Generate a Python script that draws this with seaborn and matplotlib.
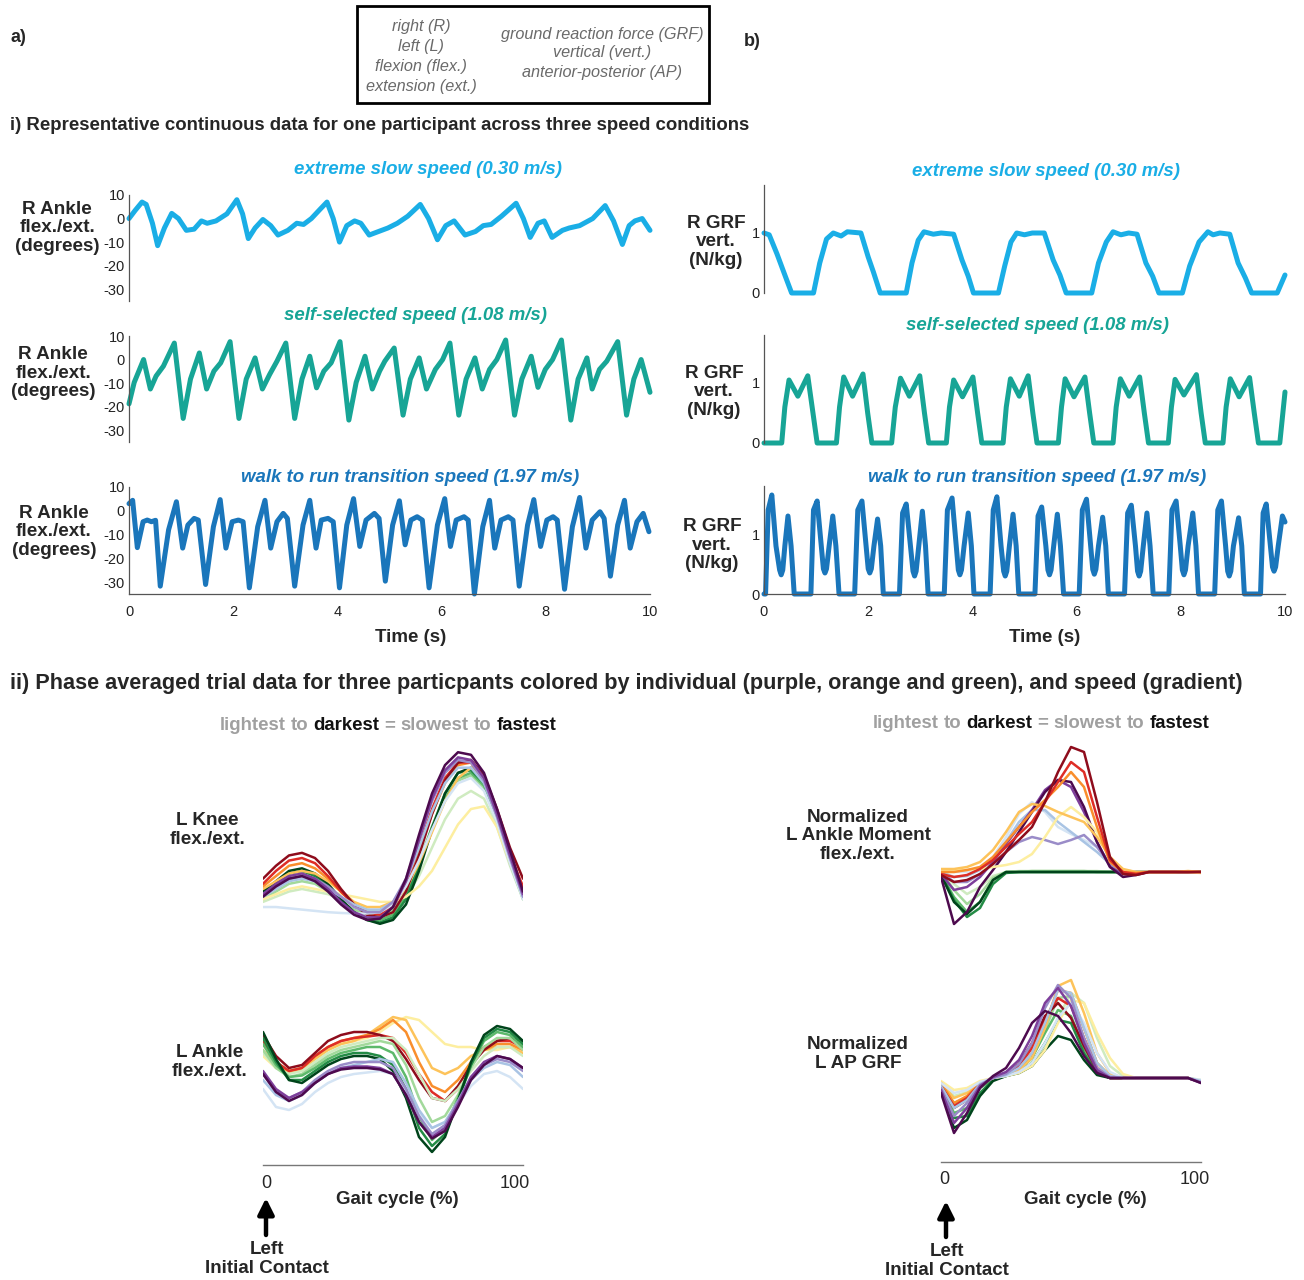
import numpy as np
import pandas as pd
import seaborn as sns
import matplotlib.pyplot as plt
from matplotlib.patches import Rectangle

# ---------------- continuous data (time in s) ----------------
slow_ankle_t = [0, 0.12, 0.25, 0.33, 0.45, 0.55, 0.68, 0.82, 0.95, 1.1, 1.25, 1.39, 1.5, 1.67, 1.88, 2.07, 2.18, 2.29, 2.42, 2.57,
                2.72, 2.86, 3.05, 3.22, 3.35, 3.5, 3.67, 3.8, 3.92, 4.04, 4.18, 4.33, 4.45, 4.61, 4.85, 4.97, 5.15, 5.35, 5.59, 5.75,
                5.92, 6.08, 6.24, 6.45, 6.65, 6.8, 6.95, 7.15, 7.43, 7.57, 7.7, 7.85, 7.97, 8.12, 8.32, 8.45, 8.65, 8.9, 9.14, 9.3,
                9.47, 9.6, 9.71, 9.85, 10.0]
slow_ankle_v = [0, 3.5, 7, 6, -2, -11.5, -4, 2.2, 0, -5, -4.5, -1, -2, -1, 2, 8, 2, -8.5, -4, -0.4,
                -3, -7, -5, -2, -2.5, 0, 4, 7, 0, -10, -3, -1, -2, -7, -5, -4, -2, 1, 6, 0,
                -9, -3, -1, -7, -5.5, -3, -2.5, 1, 6.5, 0, -8, -2, -1, -8, -5, -4, -3, 0, 5.5, -1,
                -11, -3, -1, 0, -5]

self_ankle_t = [0, 0.1, 0.28, 0.41, 0.52, 0.66, 0.87, 1.04, 1.18, 1.35, 1.49, 1.63, 1.76, 1.94, 2.11, 2.25, 2.42, 2.56, 2.7, 2.84,
                3.01, 3.18, 3.32, 3.47, 3.6, 3.74, 3.88, 4.05, 4.22, 4.36, 4.53, 4.67, 4.81, 4.91, 5.09, 5.26, 5.4, 5.57, 5.71, 5.88,
                6.02, 6.16, 6.33, 6.47, 6.64, 6.78, 6.92, 7.06, 7.23, 7.4, 7.54, 7.72, 7.85, 7.99, 8.13, 8.3, 8.48, 8.62, 8.79, 8.89,
                9.03, 9.17, 9.38, 9.55, 9.69, 9.83, 10.0]
self_ankle_v = [-18.8, -9.7, 0, -12.5, -7, -2.8, 7, -25, -8.3, 2.8, -12.5, -4.9, -1.4, 7.6, -25, -8.3, 0.7, -12.5, -6.3, -0.7,
                7, -25, -8.3, 1.4, -12, -4.9, -1.4, 7.6, -25.7, -9.7, 1.4, -12.5, -4.9, -0.7, 4.9, -23.6, -8.3, 0.7, -12.5, -4.2,
                0, 7, -23.6, -8.3, 0.7, -12.5, -4.2, 0, 8.3, -23.6, -8.3, 1.4, -11.8, -4.2, 0, 8.3, -25.7, -8.3, 0.7, -12.5,
                -4.2, -0.7, 7.6, -23.6, -8.3, 0, -13.9]

fast_ankle_t = [0, 0.07, 0.16, 0.27, 0.35, 0.43, 0.51, 0.6, 0.76, 0.91, 1.03, 1.13, 1.25, 1.33, 1.47, 1.62, 1.75, 1.86, 1.98, 2.1,
                2.19, 2.31, 2.47, 2.61, 2.72, 2.84, 2.96, 3.04, 3.18, 3.34, 3.47, 3.59, 3.69, 3.82, 3.92, 4.04, 4.18, 4.31, 4.43, 4.55,
                4.71, 4.8, 4.92, 5.06, 5.19, 5.3, 5.41, 5.53, 5.63, 5.76, 5.92, 6.06, 6.17, 6.28, 6.43, 6.51, 6.63, 6.79, 6.92, 7.02,
                7.14, 7.28, 7.37, 7.49, 7.65, 7.77, 7.9, 8.02, 8.14, 8.22, 8.36, 8.51, 8.65, 8.77, 8.89, 9.04, 9.12, 9.24, 9.38, 9.51,
                9.62, 9.75, 9.87, 9.98]
fast_ankle_v = [3, 4.4, -15.5, -4.6, -3.9, -4.6, -4, -31.7, -8, 3.8, -15.7, -6, -3.2, -3.9, -31, -6.7, 4.7, -15.7, -4.6, -3.9,
                -4.6, -32.4, -6.7, 4.4, -15.7, -4.6, -1.1, -3.2, -31.7, -6, 4.4, -15.7, -3.9, -3.2, -4.6, -32.4, -6, 5.1, -15, -3.9,
                -1.1, -3.2, -29.6, -6, 4.2, -14.3, -3.9, -2.5, -3.9, -32.4, -6, 5.1, -15, -3.9, -2.5, -3.9, -35, -6.7, 4.4, -15.7,
                -3.9, -2.5, -3.9, -31.7, -6, 4.7, -15, -3.9, -2.5, -3.9, -33, -6.7, 5.6, -15.7, -3.9, -0.4, -3.2, -27.5, -6, 4.4,
                -15.7, -4.6, -1.1, -8.8]

slow_grf_t = [0, 0.1, 0.25, 0.4, 0.53, 0.95, 1.07, 1.2, 1.33, 1.48, 1.6, 1.86, 2.0, 2.1, 2.23, 2.73, 2.84, 2.96, 3.07, 3.25,
              3.4, 3.64, 3.8, 3.92, 4.02, 4.5, 4.62, 4.74, 4.85, 5.0, 5.15, 5.38, 5.55, 5.68, 5.8, 6.29, 6.42, 6.57, 6.7, 6.85,
              7.0, 7.16, 7.33, 7.46, 7.58, 8.03, 8.17, 8.35, 8.52, 8.62, 8.75, 8.94, 9.1, 9.24, 9.36, 9.85, 10.0]
slow_grf_v = [1.0, 0.97, 0.65, 0.3, 0, 0, 0.5, 0.9, 1.0, 0.95, 1.02, 1.0, 0.6, 0.35, 0, 0, 0.5, 0.88, 1.02, 0.98,
              1.0, 0.98, 0.55, 0.28, 0, 0, 0.45, 0.85, 1.0, 0.97, 1.0, 1.0, 0.55, 0.3, 0, 0, 0.5, 0.85, 1.02, 0.97,
              1.0, 0.98, 0.5, 0.28, 0, 0, 0.45, 0.85, 1.02, 0.97, 1.0, 0.98, 0.5, 0.25, 0, 0, 0.3]

self_grf_t = [0, 0.34, 0.4, 0.48, 0.65, 0.84, 0.94, 1.02, 1.39, 1.45, 1.53, 1.7, 1.9, 1.99, 2.07,
              2.45, 2.52, 2.62, 2.79, 2.99, 3.08, 3.16, 3.5, 3.56, 3.64, 3.81, 4.01, 4.1, 4.18,
              4.59, 4.65, 4.73, 4.9, 5.07, 5.16, 5.24, 5.65, 5.71, 5.78, 5.95, 6.16, 6.25, 6.33,
              6.7, 6.76, 6.84, 7.01, 7.21, 7.3, 7.38, 7.76, 7.82, 7.89, 8.06, 8.3, 8.39, 8.47,
              8.81, 8.87, 8.95, 9.12, 9.32, 9.41, 9.49, 9.9, 10.0]
self_grf_v = [0, 0, 0.6, 1.05, 0.78, 1.12, 0.5, 0, 0, 0.6, 1.1, 0.78, 1.15, 0.5, 0,
              0, 0.6, 1.08, 0.78, 1.12, 0.5, 0, 0, 0.6, 1.05, 0.77, 1.1, 0.5, 0,
              0, 0.6, 1.07, 0.78, 1.12, 0.5, 0, 0, 0.6, 1.07, 0.77, 1.1, 0.5, 0,
              0, 0.6, 1.07, 0.78, 1.1, 0.5, 0, 0, 0.6, 1.06, 0.8, 1.14, 0.5, 0,
              0, 0.6, 1.07, 0.77, 1.09, 0.5, 0, 0, 0.85]

fast_grf_t = [0, 0.03, 0.08, 0.15, 0.23, 0.3, 0.33, 0.36, 0.4, 0.46, 0.52, 0.58,
              0.9, 0.95, 1.02, 1.1, 1.14, 1.17, 1.2, 1.25, 1.32, 1.38, 1.44,
              1.74, 1.8, 1.88, 1.96, 2.0, 2.03, 2.06, 2.11, 2.18, 2.24, 2.29,
              2.6, 2.66, 2.73, 2.81, 2.86, 2.89, 2.92, 2.97, 3.04, 3.1, 3.15,
              3.46, 3.52, 3.61, 3.69, 3.73, 3.76, 3.79, 3.84, 3.92, 3.98, 4.03,
              4.34, 4.4, 4.47, 4.55, 4.6, 4.63, 4.66, 4.71, 4.78, 4.84, 4.89,
              5.2, 5.26, 5.33, 5.41, 5.45, 5.48, 5.51, 5.56, 5.63, 5.69, 5.75,
              6.05, 6.11, 6.19, 6.27, 6.31, 6.34, 6.37, 6.42, 6.5, 6.56, 6.61,
              6.92, 6.98, 7.05, 7.13, 7.17, 7.2, 7.23, 7.28, 7.35, 7.41, 7.47,
              7.77, 7.83, 7.91, 7.99, 8.03, 8.06, 8.09, 8.14, 8.23, 8.29, 8.34,
              8.65, 8.71, 8.78, 8.86, 8.9, 8.93, 8.96, 9.01, 9.11, 9.17, 9.22,
              9.53, 9.58, 9.64, 9.72, 9.76, 9.79, 9.82, 9.87, 9.95, 10.0]
fast_grf_v = [0, 0, 1.4, 1.65, 0.8, 0.4, 0.32, 0.4, 0.8, 1.3, 0.8, 0,
              0, 1.4, 1.55, 0.8, 0.42, 0.35, 0.42, 0.8, 1.3, 0.8, 0,
              0, 1.4, 1.55, 0.8, 0.42, 0.35, 0.42, 0.8, 1.25, 0.8, 0,
              0, 1.35, 1.5, 0.8, 0.38, 0.3, 0.38, 0.8, 1.38, 0.8, 0,
              0, 1.4, 1.6, 0.8, 0.4, 0.32, 0.4, 0.8, 1.35, 0.8, 0,
              0, 1.4, 1.62, 0.8, 0.38, 0.3, 0.38, 0.8, 1.33, 0.8, 0,
              0, 1.3, 1.45, 0.8, 0.4, 0.32, 0.4, 0.8, 1.33, 0.8, 0,
              0, 1.4, 1.58, 0.8, 0.41, 0.33, 0.41, 0.8, 1.28, 0.8, 0,
              0, 1.35, 1.48, 0.8, 0.38, 0.3, 0.38, 0.8, 1.35, 0.8, 0,
              0, 1.4, 1.55, 0.8, 0.4, 0.32, 0.4, 0.8, 1.35, 0.8, 0,
              0, 1.4, 1.55, 0.8, 0.38, 0.3, 0.38, 0.8, 1.27, 0.8, 0,
              0, 1.35, 1.5, 0.8, 0.45, 0.38, 0.45, 0.8, 1.3, 1.2]

speed_titles = ["extreme slow speed (0.30 m/s)", "self-selected speed (1.08 m/s)",
                "walk to run transition speed (1.97 m/s)"]
speed_colors = ["#1aaee6", "#17a596", "#1a76bb"]

# ---------------- phase averaged data (gait cycle %) ----------------
gait_pct = [0, 5, 10, 15, 20, 25, 30, 35, 40, 45, 50, 55, 60, 65, 70, 75, 80, 85, 90, 95, 100]

orange_shades = ["#fdeea0", "#fdc35a", "#f98e2c", "#de2d26", "#8e0c1c"]
purple_shades = ["#d4e4f4", "#a9c4e4", "#9a8cc8", "#7e3f9b", "#4d0a4e"]
green_shades = ["#cfebc0", "#a2d99b", "#5db96b", "#238b45", "#00441b"]

knee_orange = [
    [8, 10, 12, 13, 12, 11, 10, 9, 8, 7, 7, 9, 13, 19, 28, 37, 43, 44, 36, 22, 10],
    [12, 15, 18, 19, 18, 15, 11, 7, 5, 5, 7, 12, 22, 34, 46, 55, 59, 55, 42, 26, 12],
    [13, 17, 21, 22, 20, 16, 11, 6, 3, 3, 6, 14, 27, 41, 53, 60, 61, 55, 41, 25, 12],
    [14, 19, 23, 24, 22, 17, 11, 6, 3, 2, 5, 14, 28, 43, 55, 61, 61, 54, 40, 25, 13],
    [16, 21, 25, 26, 24, 19, 12, 6, 2, 1, 3, 11, 25, 41, 54, 61, 62, 56, 43, 28, 16],
]
knee_purple = [
    [5, 5, 4.5, 4, 3.5, 3, 2.7, 2.5, 2.5, 3, 6, 13, 23, 35, 46, 53, 55, 50, 38, 22, 8],
    [9, 12, 15, 16, 15, 12, 9, 6, 4, 4, 7, 15, 28, 42, 53, 59, 59, 53, 40, 24, 9],
    [10, 13, 16, 17, 16, 13, 9, 5, 3, 3, 7, 16, 31, 46, 57, 62, 61, 54, 40, 24, 9],
    [10, 14, 17, 18, 16, 12, 7, 3, 1, 1, 5, 15, 31, 47, 58, 63, 62, 55, 41, 25, 10],
    [9, 13, 16, 17, 15, 11, 6, 2, 0, 0.5, 5, 16, 33, 49, 60, 65, 64, 57, 43, 27, 11],
]
knee_green = [
    [7, 9, 11, 12, 11, 10, 8, 6, 4, 3, 4, 9, 17, 28, 39, 47, 50, 47, 36, 21, 8],
    [8, 11, 14, 15, 14, 11, 7, 4, 2, 1.5, 4, 11, 23, 36, 47, 54, 56, 51, 38, 22, 8],
    [9, 13, 16, 17, 15, 12, 7, 3, 0.5, 0, 2, 9, 21, 35, 47, 55, 57, 52, 39, 23, 9],
    [10, 14, 18, 19, 17, 13, 8, 3, 0, -1, 1, 8, 21, 36, 49, 57, 58, 53, 40, 24, 10],
    [11, 15, 19, 20, 18, 14, 8, 3, 0, -1.5, 0, 6, 19, 35, 49, 57, 59, 54, 41, 25, 11],
]

ankle_orange = [
    [8, 4, 3, 4, 7, 10, 12, 13, 14, 16, 19, 21, 20, 16, 12, 11, 11, 10, 10, 11, 10],
    [10, 5, 2.5, 3.5, 7, 10, 12, 13, 15, 18, 21, 20, 12, 4, 2, 4, 8, 10, 11, 11, 9],
    [12, 6, 3, 4, 8, 11, 13, 14, 15, 17, 20, 16, 6, -2, -4, 0, 6, 10, 12, 12, 10],
    [13, 6, 3, 4, 8, 11, 13, 14, 14.5, 15, 14, 9, 2, -4, -7, -3, 5, 11, 13, 13, 11],
    [15, 8, 4, 5, 9, 13, 15, 16, 16, 15, 13, 7, 0, -6, -7, -2, 5, 10, 13, 14, 13],
]
ankle_purple = [
    [-3, -9, -10, -8, -4, -1, 1, 2, 2.5, 3, 2, -4, -11, -16, -14, -8, -2, 2, 3, 1, -3],
    [0, -5, -7, -5, -1, 2, 4, 5, 6, 7, 6, -1, -10, -16, -14, -7, 0, 4, 6, 5, 1],
    [2, -4, -6, -4, 0, 3, 5, 6, 6, 6, 4, -3, -12, -18, -15, -7, 1, 5, 7, 6, 3],
    [3, -3, -6, -4, -1, 2, 4, 4.5, 4.5, 4, 2, -5, -14, -19, -16, -8, 1, 6, 8, 7, 4],
    [2, -4, -7, -5, -1, 2, 3.5, 4, 4, 3.5, 2, -5, -14, -19.5, -17, -9, 0, 5, 8, 7, 4],
]
ankle_green = [
    [9, 4, 2, 3, 6, 9, 11, 12, 13, 14, 14, 10, 2, -6, -7, -3, 3, 8, 11, 11, 8],
    [10, 4, 1, 2, 5, 8, 10, 11, 12, 13, 12, 5, -6, -14, -12, -5, 4, 11, 14, 14, 10],
    [12, 5, 1, 1.5, 4, 7, 9, 10, 11, 11, 9, 1, -12, -20, -16, -6, 5, 13, 16, 15, 11],
    [14, 6, 0, 0, 3, 6, 8, 9, 9, 8, 5, -3, -16, -22, -18, -7, 5, 14, 17, 16, 12],
    [16, 7, 0, -1, 2, 5, 7, 8, 8, 7, 3, -6, -19, -24, -19, -7, 6, 15, 18, 17, 13],
]

moment_orange = [
    [0.02, 0.02, 0.02, 0.03, 0.05, 0.07, 0.1, 0.18, 0.35, 0.55, 0.65, 0.55, 0.4, 0.15, 0.02, 0, 0, 0, 0, 0, -0.01],
    [0.03, 0.03, 0.05, 0.1, 0.22, 0.4, 0.6, 0.68, 0.66, 0.6, 0.55, 0.5, 0.35, 0.15, 0.03, 0, 0, 0, 0, 0.01, 0],
    [0, 0, 0.02, 0.05, 0.15, 0.3, 0.45, 0.6, 0.72, 0.85, 1.0, 0.85, 0.45, 0.1, 0, -0.01, 0, 0, 0, 0, 0],
    [-0.02, -0.05, -0.03, 0.03, 0.12, 0.25, 0.38, 0.5, 0.7, 0.9, 1.1, 1.0, 0.55, 0.12, 0, -0.02, 0, 0, 0, 0, 0],
    [-0.03, -0.1, -0.08, -0.02, 0.08, 0.2, 0.32, 0.45, 0.7, 1.0, 1.25, 1.2, 0.7, 0.15, -0.02, -0.03, 0, 0, 0, 0, 0],
]
moment_purple = [
    [0.02, 0, 0, 0.05, 0.15, 0.35, 0.58, 0.7, 0.6, 0.45, 0.38, 0.32, 0.25, 0.12, 0.02, 0, 0, 0, 0, 0, 0],
    [0, -0.05, -0.04, 0.02, 0.12, 0.3, 0.5, 0.62, 0.62, 0.5, 0.4, 0.3, 0.2, 0.08, 0, 0, 0, 0, 0, 0, 0],
    [0, -0.1, -0.1, -0.02, 0.08, 0.2, 0.3, 0.35, 0.32, 0.28, 0.32, 0.37, 0.25, 0.08, 0, 0, 0, 0, 0, 0, 0],
    [-0.02, -0.18, -0.15, -0.05, 0.1, 0.28, 0.45, 0.62, 0.82, 0.92, 0.85, 0.6, 0.3, 0.05, -0.02, -0.02, 0, 0, 0, 0, 0],
    [-0.05, -0.52, -0.4, -0.15, 0.02, 0.2, 0.4, 0.6, 0.8, 0.92, 0.9, 0.65, 0.3, 0.05, -0.05, -0.03, 0, 0, 0, 0, 0],
]
moment_green = [
    [0, -0.12, -0.22, -0.15, -0.04, 0, 0.01, 0.01, 0.01, 0.01, 0.01, 0.01, 0.01, 0, 0, 0, 0, 0, 0, 0, 0],
    [0, -0.18, -0.32, -0.22, -0.06, 0, 0, 0.01, 0.01, 0.01, 0.01, 0.01, 0, 0, 0, 0, 0, 0, 0, 0, 0],
    [-0.02, -0.25, -0.4, -0.3, -0.08, 0, 0, 0, 0, 0, 0, 0, 0, 0, 0, 0, 0, 0, 0, 0, 0],
    [-0.02, -0.28, -0.45, -0.36, -0.12, -0.01, 0, 0, 0, 0, 0, 0, 0, 0, 0, 0, 0, 0, 0, 0, 0],
    [-0.03, -0.3, -0.42, -0.3, -0.08, 0, 0, 0, 0, 0, 0, 0, 0, 0, 0, 0, 0, 0, 0, 0, 0],
]

apgrf_orange = [
    [-0.03, -0.12, -0.1, -0.03, 0, 0.02, 0.05, 0.12, 0.28, 0.55, 0.78, 0.75, 0.45, 0.2, 0.04, 0, 0, 0, 0, 0, -0.03],
    [-0.05, -0.2, -0.15, -0.05, 0, 0.03, 0.08, 0.2, 0.5, 0.92, 0.98, 0.65, 0.25, 0.05, 0, 0, 0, 0, 0, 0, -0.03],
    [-0.05, -0.25, -0.18, -0.05, 0, 0.03, 0.1, 0.25, 0.55, 0.88, 0.85, 0.5, 0.15, 0.02, 0, 0, 0, 0, 0, 0, -0.04],
    [-0.08, -0.28, -0.2, -0.06, 0, 0.04, 0.12, 0.3, 0.6, 0.8, 0.72, 0.4, 0.1, 0, 0, 0, 0, 0, 0, 0, -0.04],
    [-0.08, -0.3, -0.22, -0.07, 0, 0.05, 0.14, 0.35, 0.62, 0.75, 0.6, 0.32, 0.08, 0, 0, 0, 0, 0, 0, 0, -0.04],
]
apgrf_purple = [
    [-0.05, -0.15, -0.12, -0.04, 0, 0.02, 0.06, 0.15, 0.35, 0.6, 0.75, 0.55, 0.25, 0.06, 0, 0, 0, 0, 0, 0, -0.02],
    [-0.08, -0.3, -0.22, -0.06, 0, 0.03, 0.1, 0.25, 0.55, 0.88, 0.85, 0.5, 0.15, 0.02, 0, 0, 0, 0, 0, 0, -0.03],
    [-0.1, -0.38, -0.25, -0.07, 0, 0.04, 0.14, 0.35, 0.7, 0.93, 0.8, 0.4, 0.1, 0.01, 0, 0, 0, 0, 0, 0, -0.04],
    [-0.12, -0.45, -0.3, -0.08, 0.01, 0.06, 0.18, 0.42, 0.75, 0.9, 0.72, 0.35, 0.08, 0, 0, 0, 0, 0, 0, 0, -0.05],
    [-0.15, -0.55, -0.35, -0.1, 0.02, 0.1, 0.3, 0.55, 0.67, 0.62, 0.45, 0.22, 0.05, 0, 0, 0, 0, 0, 0, 0, -0.05],
]
apgrf_green = [
    [-0.05, -0.18, -0.14, -0.05, 0, 0.02, 0.05, 0.12, 0.3, 0.6, 0.85, 0.75, 0.4, 0.12, 0.02, 0, 0, 0, 0, 0, -0.02],
    [-0.06, -0.25, -0.2, -0.06, 0, 0.03, 0.08, 0.2, 0.48, 0.8, 0.82, 0.5, 0.15, 0.02, 0, 0, 0, 0, 0, 0, -0.03],
    [-0.08, -0.35, -0.3, -0.1, -0.01, 0.03, 0.08, 0.2, 0.45, 0.68, 0.62, 0.3, 0.07, 0, 0, 0, 0, 0, 0, 0, -0.03],
    [-0.1, -0.4, -0.38, -0.15, -0.02, 0.02, 0.06, 0.15, 0.35, 0.58, 0.55, 0.25, 0.05, 0, 0, 0, 0, 0, 0, 0, -0.04],
    [-0.12, -0.5, -0.42, -0.18, -0.03, 0.02, 0.05, 0.12, 0.28, 0.42, 0.38, 0.18, 0.03, 0, 0, 0, 0, 0, 0, 0, -0.04],
]

# ---------------- figure setup ----------------
sns.set_style("white")
plt.rcParams['font.family'] = ['Liberation Sans', 'DejaVu Sans']
plt.rcParams['axes.unicode_minus'] = False

W, H = 1304, 1280
fig = plt.figure(figsize=(W / 100, H / 100), dpi=100)


def px_axes(x0, y0, x1, y1):
    # pixel box (top-left origin) -> figure axes
    return fig.add_axes([x0 / W, 1 - y1 / H, (x1 - x0) / W, (y1 - y0) / H])


def ftext(x, y, s, **kw):
    kw.setdefault('ha', 'center')
    kw.setdefault('va', 'center')
    return fig.text(x / W, 1 - y / H, s, **kw)


# ---------------- header texts ----------------
ftext(18, 38, "a)", fontsize=13, weight='bold')
ftext(752, 41, "b)", fontsize=13, weight='bold')
fig.add_artist(Rectangle((357 / W, 1 - 103 / H), 352 / W, 97 / H, transform=fig.transFigure,
                         fill=False, lw=2, ec='black'))
for yy, s in zip([26, 46, 66, 86], ["right (R)", "left (L)", "flexion (flex.)", "extension (ext.)"]):
    ftext(421, yy, s, fontsize=11.7, style='italic', color='#6a6a6a')
for yy, s in zip([34, 53, 73], ["ground reaction force (GRF)", "vertical (vert.)", "anterior-posterior (AP)"]):
    ftext(602, yy, s, fontsize=11.7, style='italic', color='#6a6a6a')

ftext(10, 126, "i) Representative continuous data for one participant across three speed conditions",
      ha='left', fontsize=13.4, weight='bold')
ftext(10, 684, "ii) Phase averaged trial data for three particpants colored by individual "
      "(purple, orange and green), and speed (gradient)", ha='left', fontsize=15.6, weight='bold')

# ---------------- continuous panels ----------------
ankle_series = [(slow_ankle_t, slow_ankle_v), (self_ankle_t, self_ankle_v), (fast_ankle_t, fast_ankle_v)]
grf_series = [(slow_grf_t, slow_grf_v), (self_grf_t, self_grf_v), (fast_grf_t, fast_grf_v)]
left_boxes = [(129, 195, 650, 301), (129, 336, 650, 442), (129, 487, 650, 594)]
right_boxes = [(764, 185, 1285, 293), (764, 335, 1285, 443), (764, 486, 1285, 594)]
left_title_xy = [(428, 169), (415, 315), (410, 478)]
right_title_xy = [(1046, 171), (1038, 325), (1037, 477)]
left_label_xy = [(57, 228), (53, 373), (54, 532)]
right_label_xy = [(716, 242), (714, 392), (712, 545)]

for i in range(3):
    col = speed_colors[i]
    for side in ("left", "right"):
        if side == "left":
            ax = px_axes(*left_boxes[i])
            t, v = ankle_series[i]
            ylim, yticks = (-35, 10), [-30, -20, -10, 0, 10]
            ttl_xy, lab_xy, lab = left_title_xy[i], left_label_xy[i], "R Ankle\nflex./ext.\n(degrees)"
        else:
            ax = px_axes(*right_boxes[i])
            t, v = grf_series[i]
            ylim, yticks = (0, 1.8), [0, 1]
            ttl_xy, lab_xy, lab = right_title_xy[i], right_label_xy[i], "R GRF\nvert.\n(N/kg)"
        sns.lineplot(x=t, y=v, ax=ax, color=col, linewidth=3.6, estimator=None, sort=False,
                     solid_joinstyle='round', solid_capstyle='round')
        for ln in ax.lines:
            ln.set_clip_on(False)
        ax.set_xlim(0, 10)
        ax.set_ylim(*ylim)
        ax.set_yticks(yticks)
        ax.set_xlabel("")
        ax.set_ylabel("")
        ax.set_facecolor('none')
        for sp in ("top", "right"):
            ax.spines[sp].set_visible(False)
        ax.spines["left"].set_color('#555555')
        ax.spines["left"].set_linewidth(0.9)
        ax.tick_params(axis='y', direction='in', length=4, labelsize=10.5, colors='#555555',
                       labelcolor='#222222', pad=3)
        if i < 2:
            ax.spines["bottom"].set_visible(False)
            ax.set_xticks([])
        else:
            ax.spines["bottom"].set_color('#555555')
            ax.spines["bottom"].set_linewidth(0.9)
            ax.set_xticks([0, 2, 4, 6, 8, 10])
            ax.tick_params(axis='x', direction='in', length=4, labelsize=10.5, colors='#555555',
                           labelcolor='#222222', pad=8)
        ftext(*ttl_xy, speed_titles[i], fontsize=13.4, weight='bold', style='italic', color=col)
        ftext(*lab_xy, lab, fontsize=13.6, weight='bold', linespacing=1.15)

ftext(411, 637, "Time (s)", fontsize=13.5, weight='bold')
ftext(1045, 637, "Time (s)", fontsize=13.5, weight='bold')


# ---------------- phase averaged panels ----------------
def gait_frame(groups):
    frames = []
    for shades, curves in groups:
        for c, vals in zip(shades, curves):
            frames.append(pd.DataFrame({'gait': gait_pct, 'value': vals, 'curve': c}))
    return pd.concat(frames, ignore_index=True)


panels = [
    ((263, 745, 523, 930), (-3.9, 67.8), False, [(green_shades, knee_green), (orange_shades, knee_orange), (purple_shades, knee_purple)]),
    ((263, 1005, 523, 1165), (-28.33, 25), True, [(orange_shades, ankle_orange), (green_shades, ankle_green), (purple_shades, ankle_purple)]),
    ((941, 740, 1201, 940), (-0.68, 1.32), False, [(green_shades, moment_green), (purple_shades, moment_purple), (orange_shades, moment_orange)]),
    ((941, 965, 1201, 1162), (-0.84, 1.13), True, [(green_shades, apgrf_green), (orange_shades, apgrf_orange), (purple_shades, apgrf_purple)]),
]

for bx, ylim, with_axis, groups in panels:
    ax = px_axes(*bx)
    df = gait_frame(groups)
    order = list(dict.fromkeys(df['curve']))
    sns.lineplot(data=df, x='gait', y='value', hue='curve', hue_order=order,
                 palette={c: c for c in order}, estimator=None, sort=False,
                 linewidth=1.8, legend=False, ax=ax, solid_joinstyle='round')
    ax.set_xlim(0, 100)
    ax.set_ylim(*ylim)
    ax.set_xlabel("")
    ax.set_ylabel("")
    ax.set_yticks([])
    ax.set_facecolor('none')
    for sp in ("top", "right", "left"):
        ax.spines[sp].set_visible(False)
    if with_axis:
        ax.spines["bottom"].set_color('#777777')
        ax.spines["bottom"].set_linewidth(1.0)
        ax.set_xticks([0, 100])
        ax.set_xticklabels([])
        ax.tick_params(axis='x', direction='in', length=5, colors='#777777')
    else:
        ax.spines["bottom"].set_visible(False)
        ax.set_xticks([])

ftext(207, 830, "L Knee\nflex./ext.", fontsize=13.6, weight='bold', linespacing=1.15)
ftext(210, 1062, "L Ankle\nflex./ext.", fontsize=13.6, weight='bold', linespacing=1.15)
ftext(858, 836, "Normalized\nL Ankle Moment\nflex./ext.", fontsize=13.6, weight='bold', linespacing=1.15)
ftext(858, 1054, "Normalized\nL AP GRF", fontsize=13.6, weight='bold', linespacing=1.15)

for x0, x1, yl, xg, yg, xa, ya0, ya1, yc in [(266, 515, 1184, 397, 1199, 266, 1235, 1198, 1259),
                                             (944, 1195, 1180, 1085, 1200, 946, 1237, 1201, 1261)]:
    ftext(x0, yl, "0", fontsize=13)
    ftext(x1, yl, "100", fontsize=13)
    ftext(xg, yg, "Gait cycle (%)", fontsize=13.5, weight='bold')
    fig.add_artist(plt.Annotation("", xy=(xa / W, 1 - ya1 / H), xytext=(xa / W, 1 - ya0 / H),
                                  xycoords='figure fraction', textcoords='figure fraction',
                                  arrowprops=dict(arrowstyle='-|>', lw=3.2, color='black',
                                                  mutation_scale=24, shrinkA=0, shrinkB=0)))
    ftext(xa + 1, yc, "Left\nInitial Contact", fontsize=13.5, weight='bold', linespacing=1.1)

# gradient note with mixed colours
renderer = fig.canvas.get_renderer()
grey, black = '#a0a0a0', '#111111'
note_parts = [("lightest", grey), ("to", grey), ("darkest", black), ("=", grey),
              ("slowest", grey), ("to", grey), ("fastest", black)]


def word_width(s, size):
    t = fig.text(0, 0, s, fontsize=size, weight='bold')
    w = t.get_window_extent(renderer).width
    t.remove()
    return w


for xc, yc in [(388, 726), (1041, 723)]:
    size = 13.4
    space = word_width("a a", size) - word_width("aa", size)
    widths = [word_width(s, size) for s, _ in note_parts]
    total = sum(widths) + space * (len(widths) - 1)
    x = xc - total / 2
    for (s, c), w in zip(note_parts, widths):
        ftext(x, yc, s, ha='left', fontsize=size, weight='bold', color=c)
        x += w + space

fig.savefig("out.png", dpi=100)
